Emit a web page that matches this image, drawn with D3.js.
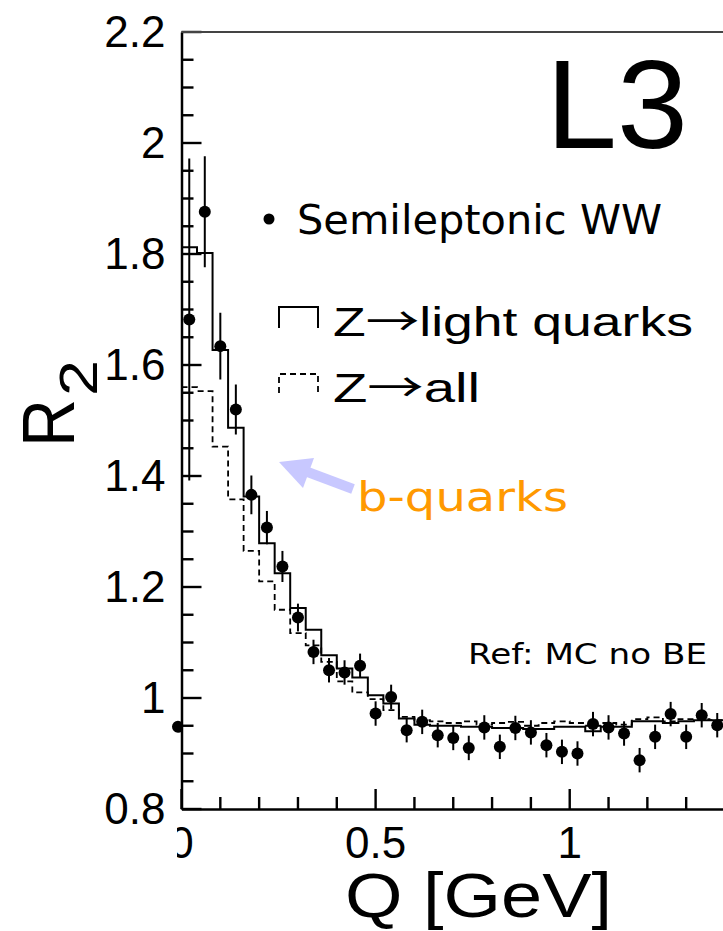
<!DOCTYPE html>
<html>
<head>
<meta charset="utf-8">
<script src="https://cdn.jsdelivr.net/npm/d3@7"></script>
<style>
  body { margin: 0; background: #fff; }
  svg { display: block; }
  .axis path, .axis line { stroke: #000; stroke-width: 2.5; }
  .axis text { font-family: "Liberation Sans", Arial, sans-serif; font-size: 44px; fill: #000; }
</style>
</head>
<body>
<div id="wrapper"></div>
<script>
// measured R2, semileptonic WW (bin centres in GeV)
const qPoints = [0.02, 0.06, 0.10, 0.14, 0.18, 0.22, 0.26, 0.30, 0.34, 0.38,
  0.42, 0.46, 0.50, 0.54, 0.58, 0.62, 0.66, 0.70, 0.74, 0.78,
  0.82, 0.86, 0.90, 0.94, 0.98, 1.02, 1.06, 1.10, 1.14, 1.18,
  1.22, 1.26, 1.30, 1.34, 1.38];
const r2Points = [1.682, 1.876, 1.634, 1.520, 1.366, 1.307, 1.237, 1.145, 1.083, 1.050,
  1.046, 1.058, 0.972, 1.002, 0.942, 0.957, 0.933, 0.928, 0.910, 0.947,
  0.912, 0.946, 0.938, 0.915, 0.903, 0.900, 0.953, 0.947, 0.936, 0.888,
  0.930, 0.971, 0.930, 0.969, 0.951];
const r2Errors = [0.29, 0.10, 0.06, 0.045, 0.035, 0.03, 0.028, 0.025, 0.022, 0.022,
  0.022, 0.022, 0.022, 0.022, 0.022, 0.022, 0.022, 0.022, 0.022, 0.022,
  0.022, 0.022, 0.022, 0.022, 0.022, 0.022, 0.022, 0.022, 0.022, 0.022,
  0.022, 0.022, 0.022, 0.022, 0.022];

// MC histograms (Z -> light quarks, Z -> all)
const binEdges = [0, 0.04, 0.08, 0.12, 0.16, 0.20, 0.24, 0.28, 0.32, 0.36,
  0.40, 0.44, 0.48, 0.52, 0.56, 0.60, 0.64, 0.68, 0.72, 0.76,
  0.80, 0.84, 0.88, 0.92, 0.96, 1.00, 1.04, 1.08, 1.12, 1.16,
  1.20, 1.24, 1.28, 1.32, 1.36, 1.40];
const lightQuarks = [1.812, 1.802, 1.627, 1.487, 1.363, 1.279, 1.225, 1.162, 1.123, 1.077,
  1.053, 1.037, 1.005, 0.990, 0.963, 0.952, 0.950, 0.950, 0.948, 0.948,
  0.946, 0.946, 0.944, 0.944, 0.948, 0.948, 0.940, 0.948, 0.948, 0.958,
  0.958, 0.955, 0.958, 0.960, 0.960];
const allFlavours = [1.560, 1.553, 1.453, 1.358, 1.265, 1.210, 1.159, 1.117, 1.095, 1.065,
  1.030, 1.010, 0.998, 0.978, 0.966, 0.960, 0.958, 0.955, 0.958, 0.952,
  0.955, 0.957, 0.950, 0.955, 0.958, 0.955, 0.950, 0.955, 0.952, 0.962,
  0.965, 0.958, 0.962, 0.962, 0.960];

// a marker of the neighbouring panel that shows at the left edge
const neighbourPoint = [{ q: -0.009, r: 0.948 }];

const yTickValues = [0.8, 1, 1.2, 1.4, 1.6, 1.8, 2, 2.2];
const yTickLabels = ["0.8", "1", "1.2", "1.4", "1.6", "1.8", "2", "2.2"];
const xTickValues = [0, 0.5, 1];
const xTickLabels = ["0", "0.5", "1"];

function drawChart() {
  // 1. sizes
  const dimensions = {
    width: 723,
    height: 931,
    left: 181.5,
    right: 725,
    top: 32,
    bottom: 809,
  };

  const svg = d3
    .select("#wrapper")
    .append("svg")
    .attr("width", dimensions.width)
    .attr("height", dimensions.height);

  const defs = svg.append("defs");
  defs.append("clipPath").attr("id", "plot-clip")
    .append("rect")
    .attr("x", dimensions.left).attr("y", 0)
    .attr("width", dimensions.width - dimensions.left)
    .attr("height", dimensions.bottom + 1);
  defs.append("clipPath").attr("id", "left-clip")
    .append("rect")
    .attr("x", 0).attr("y", 0)
    .attr("width", dimensions.left).attr("height", dimensions.bottom);
  defs.append("clipPath").attr("id", "xlabel-clip")
    .append("rect")
    .attr("x", 177).attr("y", 0)
    .attr("width", dimensions.width).attr("height", dimensions.height);

  // 2. scales
  const xScale = d3.scaleLinear().domain([0, 1.4]).range([dimensions.left, dimensions.right]);
  const yScale = d3.scaleLinear().domain([0.8, 2.2]).range([dimensions.bottom, dimensions.top]);

  // 3. axes: labels from d3 axes, tick marks drawn inwards
  svg.append("g")
    .attr("class", "axis")
    .attr("transform", `translate(${dimensions.left},0)`)
    .call(
      d3.axisLeft(yScale)
        .tickValues(yTickValues)
        .tickSize(0).tickPadding(16)
        .tickFormat((d, i) => yTickLabels[i])
    );

  const xAxis = svg.append("g")
    .attr("class", "axis")
    .attr("transform", `translate(0,${dimensions.bottom})`)
    .call(
      d3.axisBottom(xScale)
        .tickValues(xTickValues)
        .tickSize(0).tickPadding(18)
        .tickFormat((d, i) => xTickLabels[i])
    );
  xAxis.selectAll(".tick")
    .attr("transform", null);
  xAxis.selectAll(".tick text")
    .attr("x", (d) => xScale(d))
    .attr("clip-path", "url(#xlabel-clip)");

  const isMajor = (list, d) => list.some((v) => Math.abs(v - d) < 1e-6);
  const yMinor = d3.range(0.8, 2.2001, 0.05);
  const xMinor = d3.range(0, 1.401, 0.1);
  const tickGroup = svg.append("g");
  tickGroup.selectAll(".y-tick")
    .data(yMinor)
    .join("rect")
    .attr("class", "y-tick")
    .attr("x", dimensions.left)
    .attr("y", (d) => yScale(d) - 1.2)
    .attr("width", (d) => (isMajor(yTickValues, d) ? 20 : 12))
    .attr("height", 2.4)
    .attr("fill", "#000");
  tickGroup.selectAll(".x-tick")
    .data(xMinor)
    .join("rect")
    .attr("class", "x-tick")
    .attr("x", (d) => xScale(d) - 1.2)
    .attr("y", (d) => dimensions.bottom - (isMajor(xTickValues, d) ? 20 : 12))
    .attr("width", 2.4)
    .attr("height", (d) => (isMajor(xTickValues, d) ? 20 : 12))
    .attr("fill", "#000");

  // top frame
  svg.append("line")
    .attr("x1", dimensions.left).attr("x2", dimensions.width)
    .attr("y1", yScale(2.2)).attr("y2", yScale(2.2))
    .attr("stroke", "#444").attr("stroke-width", 2);

  // 4. histograms
  const plot = svg.append("g").attr("clip-path", "url(#plot-clip)");
  const stepLine = d3.line()
    .x((d) => xScale(d[0]))
    .y((d) => yScale(d[1]))
    .curve(d3.curveStepAfter);
  const histPoints = (vals) =>
    vals.map((v, i) => [binEdges[i], v]).concat([[binEdges[vals.length], vals[vals.length - 1]]]);

  plot.append("path")
    .attr("d", stepLine(histPoints(allFlavours)))
    .attr("fill", "none")
    .attr("stroke", "#000")
    .attr("stroke-width", 1.8)
    .attr("stroke-dasharray", "6,4");
  plot.append("path")
    .attr("d", stepLine(histPoints(lightQuarks)))
    .attr("fill", "none")
    .attr("stroke", "#000")
    .attr("stroke-width", 2);

  // 5. data points
  const points = qPoints.map((q, i) => ({ q, r: r2Points[i], e: r2Errors[i] }));
  plot.selectAll(".err")
    .data(points)
    .join("line")
    .attr("class", "err")
    .attr("x1", (d) => xScale(d.q)).attr("x2", (d) => xScale(d.q))
    .attr("y1", (d) => yScale(d.r - d.e)).attr("y2", (d) => yScale(d.r + d.e))
    .attr("stroke", "#000").attr("stroke-width", 2);
  plot.selectAll(".dot")
    .data(points)
    .join("circle")
    .attr("class", "dot")
    .attr("cx", (d) => xScale(d.q)).attr("cy", (d) => yScale(d.r))
    .attr("r", 6)
    .attr("fill", "#000");

  svg.append("g").attr("clip-path", "url(#left-clip)")
    .selectAll("circle")
    .data(neighbourPoint)
    .join("circle")
    .attr("cx", (d) => xScale(d.q)).attr("cy", (d) => yScale(d.r))
    .attr("r", 6).attr("fill", "#000");

  // 6. labels
  svg.append("text")
    .attr("x", 345).attr("y", 917)
    .attr("textLength", 267).attr("lengthAdjust", "spacingAndGlyphs")
    .style("font-family", "Liberation Sans, Arial, sans-serif")
    .style("font-size", "63px")
    .text("Q [GeV]");

  svg.append("text")
    .attr("transform", "translate(74,447) rotate(-90)")
    .attr("textLength", 48).attr("lengthAdjust", "spacingAndGlyphs")
    .style("font-family", "Liberation Sans, Arial, sans-serif")
    .style("font-size", "74px")
    .text("R");
  svg.append("text")
    .attr("transform", "translate(97,396) rotate(-90)")
    .attr("textLength", 36).attr("lengthAdjust", "spacingAndGlyphs")
    .style("font-family", "Liberation Sans, Arial, sans-serif")
    .style("font-size", "53px")
    .text("2");

  svg.append("text")
    .attr("x", 546).attr("y", 148)
    .attr("textLength", 142).attr("lengthAdjust", "spacingAndGlyphs")
    .style("font-family", "Liberation Sans, Arial, sans-serif")
    .style("font-size", "126px")
    .text("L3");

  // legend
  const legend = svg.append("g");
  legend.append("circle").attr("cx", 269).attr("cy", 219).attr("r", 5.5).attr("fill", "#000");
  legend.append("text")
    .attr("x", 297).attr("y", 234)
    .attr("textLength", 365).attr("lengthAdjust", "spacingAndGlyphs")
    .style("font-family", "DejaVu Sans, sans-serif")
    .style("font-size", "40px")
    .text("Semileptonic WW");

  legend.append("path")
    .attr("d", "M279,328 V307 H318 V328")
    .attr("fill", "none").attr("stroke", "#000").attr("stroke-width", 2);
  const lightText = legend.append("text")
    .attr("x", 333).attr("y", 336)
    .attr("textLength", 360).attr("lengthAdjust", "spacingAndGlyphs")
    .style("font-family", "Liberation Sans, Arial, sans-serif")
    .style("font-size", "40px");
  lightText.append("tspan").text("Z");
  lightText.append("tspan").style("font-family", "Noto Sans CJK JP").text("\u2192");
  lightText.append("tspan").text("light quarks");

  legend.append("path")
    .attr("d", "M279,393 V374 H318 V393")
    .attr("fill", "none").attr("stroke", "#000").attr("stroke-width", 1.8)
    .attr("stroke-dasharray", "6,4");
  const allText = legend.append("text")
    .attr("x", 333).attr("y", 402)
    .attr("textLength", 147).attr("lengthAdjust", "spacingAndGlyphs")
    .style("font-family", "Liberation Sans, Arial, sans-serif")
    .style("font-size", "40px");
  allText.append("tspan").text("Z");
  allText.append("tspan").style("font-family", "Noto Sans CJK JP").text("\u2192");
  allText.append("tspan").text("all");

  // b-quark annotation
  const arrowColor = "#c8c8ff";
  svg.append("line")
    .attr("x1", 353).attr("y1", 489).attr("x2", 305).attr("y2", 471)
    .attr("stroke", arrowColor).attr("stroke-width", 10);
  svg.append("path")
    .attr("d", "M279,462 L314,458 L303,488 Z")
    .attr("fill", arrowColor);
  svg.append("text")
    .attr("x", 357).attr("y", 511)
    .attr("textLength", 211).attr("lengthAdjust", "spacingAndGlyphs")
    .style("font-family", "DejaVu Sans, sans-serif")
    .style("font-size", "40px")
    .style("fill", "#ff9900")
    .text("b-quarks");

  svg.append("text")
    .attr("x", 468).attr("y", 664)
    .attr("textLength", 239).attr("lengthAdjust", "spacingAndGlyphs")
    .style("font-family", "DejaVu Sans, sans-serif")
    .style("font-size", "29px")
    .text("Ref: MC no BE");
}

drawChart();
</script>
</body>
</html>
